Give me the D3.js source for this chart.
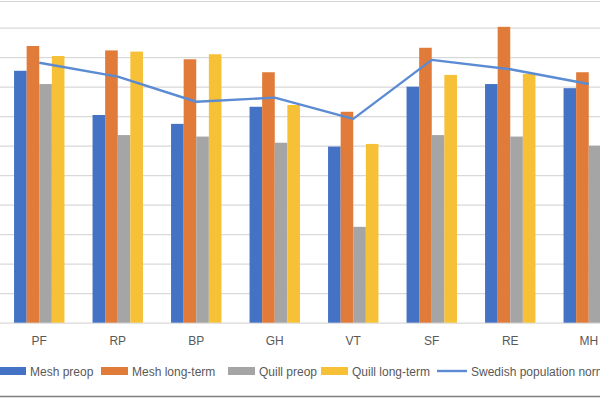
<!DOCTYPE html>
<html>
<head>
<meta charset="utf-8">
<script src="https://cdn.jsdelivr.net/npm/d3@7"></script>
<style>
  html, body { margin: 0; padding: 0; background: #ffffff; }
  svg { display: block; }
  text { font-family: "Liberation Sans", Arial, sans-serif; fill: #595959; }
</style>
</head>
<body>
<svg id="chart" width="600" height="400"></svg>
<script>
const categories = ["PF", "RP", "BP", "GH", "VT", "SF", "RE", "MH"];
const seriesNames = ["Mesh preop", "Mesh long-term", "Quill preop", "Quill long-term"];
const meshPreop     = [85.4, 70.4, 67.4, 73.2, 59.7, 80.0, 80.9, 79.5];
const meshLongTerm  = [93.8, 92.3, 89.3, 84.9, 71.5, 93.2, 100.3, 84.9];
const quillPreop    = [80.9, 63.6, 63.1, 61.0, 32.5, 63.6, 63.1, 60.0];
const quillLongTerm = [90.4, 91.9, 91.0, 73.8, 60.6, 84.0, 84.3, 76.0];
const lineName = "Swedish population norm";
const swedishNorm   = [88.1, 83.4, 74.9, 76.3, 69.1, 89.1, 85.9, 80.9];
const yTicks = [0, 10, 20, 30, 40, 50, 60, 70, 80, 90, 100];

const seriesValues = [meshPreop, meshLongTerm, quillPreop, quillLongTerm];
const colors = ["#4472C4", "#E07B39", "#A5A5A5", "#F6C136"];
const lineColor = "#5B8BD3";

const svg = d3.select("#chart");

const x0 = d3.scaleBand().domain(categories).range([0, 628]).paddingInner(0).paddingOuter(0);
const step = x0.step();
const x1 = d3.scaleBand().domain(seriesNames).range([step * 0.179, step * 0.821]).padding(0);
const y = d3.scaleLinear().domain([0, 100]).range([322.7, 27.7]);

// chart frame top line
svg.append("line").attr("x1", 0).attr("x2", 600).attr("y1", 1.5).attr("y2", 1.5)
  .attr("stroke", "#d4d4d4").attr("stroke-width", 1.2);

// gridlines
const grid = d3.axisLeft(y).tickValues(yTicks).tickSize(-600).tickFormat("");
svg.append("g").attr("transform", "translate(0,0)").call(grid)
  .call(g => g.select(".domain").remove())
  .call(g => g.selectAll(".tick line").attr("stroke", "#d9d9d9").attr("stroke-width", 1.2));

// bars
const groups = svg.append("g").selectAll("g").data(categories).join("g")
  .attr("transform", d => `translate(${x0(d)},0)`);
groups.selectAll("rect")
  .data((c, i) => seriesNames.map((s, k) => ({ s, k, v: seriesValues[k][i] })))
  .join("rect")
  .attr("x", d => x1(d.s))
  .attr("width", x1.bandwidth())
  .attr("y", d => y(d.v))
  .attr("height", d => y(0) - y(d.v))
  .attr("fill", d => colors[d.k]);

// x axis labels
const xAxis = d3.axisBottom(x0).tickSize(0).tickPadding(14);
svg.append("g").attr("transform", `translate(0,${y(0)})`).call(xAxis)
  .call(g => g.select(".domain").remove())
  .call(g => g.selectAll("text").attr("font-size", 12).style("font-family", '"Liberation Sans", Arial, sans-serif').attr("fill", "#595959"));

// line
const line = d3.line().x((d, i) => x0(categories[i]) + step / 2).y(d => y(d));
svg.append("path").datum(swedishNorm).attr("d", line)
  .attr("fill", "none").attr("stroke", lineColor).attr("stroke-width", 2.4)
  .attr("stroke-linejoin", "round");

// legend
const legendY = 371;
const legendItems = [
  { name: seriesNames[0], type: "rect", color: colors[0], x: -1 },
  { name: seriesNames[1], type: "rect", color: colors[1], x: 101 },
  { name: seriesNames[2], type: "rect", color: colors[2], x: 228 },
  { name: seriesNames[3], type: "rect", color: colors[3], x: 321 },
  { name: lineName, type: "line", color: lineColor, x: 437 }
];
const lg = svg.append("g").selectAll("g").data(legendItems).join("g")
  .attr("transform", d => `translate(${d.x},${legendY})`);
lg.filter(d => d.type === "rect").append("rect")
  .attr("x", 0).attr("y", -4).attr("width", 27).attr("height", 8).attr("fill", d => d.color);
lg.filter(d => d.type === "line").append("line")
  .attr("x1", 0).attr("x2", 30).attr("y1", 0).attr("y2", 0)
  .attr("stroke", d => d.color).attr("stroke-width", 2.4);
lg.append("text").attr("x", d => d.type === "line" ? 34 : 31).attr("y", 4.5)
  .attr("font-size", 12).text(d => d.name);

// bottom frame line
svg.append("line").attr("x1", 0).attr("x2", 600).attr("y1", 396.5).attr("y2", 396.5)
  .attr("stroke", "#7f7f7f").attr("stroke-width", 1.5);
</script>
</body>
</html>
